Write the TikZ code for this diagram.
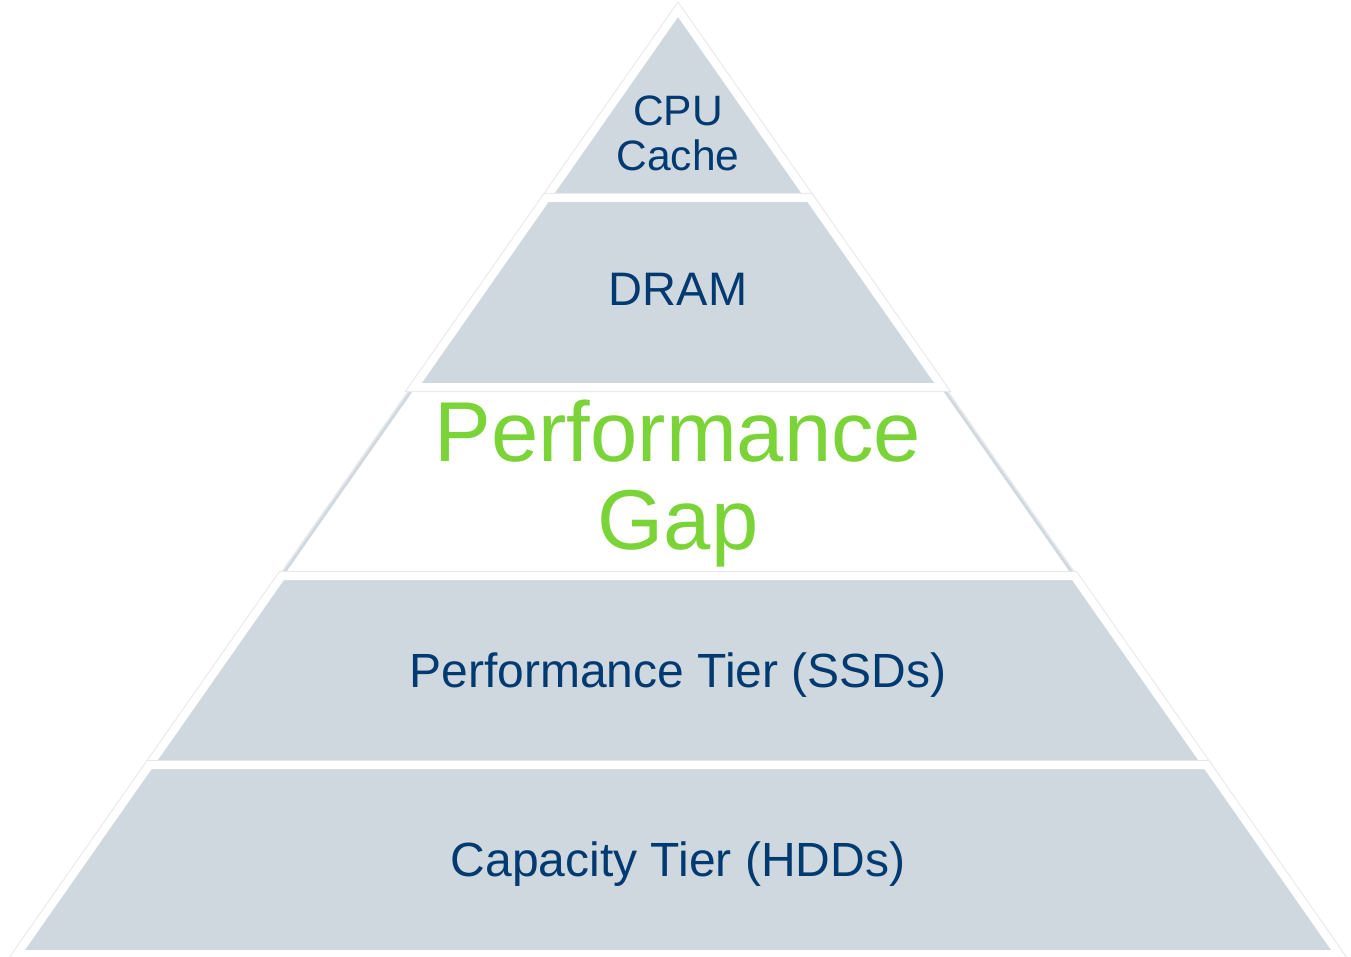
\documentclass[tikz,border=0pt]{standalone}
\usepackage{fontspec}
\setmainfont{Liberation Sans}
\definecolor{tierfill}{RGB}{208,216,223}
\definecolor{tiertext}{RGB}{0,58,112}
\definecolor{gapgreen}{RGB}{122,211,55}
\definecolor{tiershade}{RGB}{230,232,235}
% trapezoid slice of the pyramid between two heights
\newcommand{\bandpath}[2]{({678-0.7*(#1-10)},#1) -- ({678+0.7*(#1-10)},#1) -- ({678+0.7*(#2-10)},#2) -- ({678-0.7*(#2-10)},#2) -- cycle}
\tikzset{
  tier/.style={fill=tierfill, draw=white, line width=8pt, line join=miter,
    preaction={draw=tiershade, line width=10pt, line join=miter}},
  gapband/.style={fill=white, draw=tierfill, line width=2.5pt,
    preaction={draw=tiershade, line width=6pt}},
  tierlabel/.style={text=tiertext, font=\fontsize{48}{50}\selectfont, align=center, inner sep=0pt}
}
\begin{document}
\begin{tikzpicture}[x=1pt,y=-1pt]
    \useasboundingbox (0,0) rectangle (1351,957);
    % the gap band sits under the tiers
    \draw[gapband] \bandpath{387}{576};
    \draw[tier] (678,10) -- ({678+0.7*188},198) -- ({678-0.7*188},198) -- cycle;
    \foreach \top/\bot in {198/387, 576/765, 765/954}
        \draw[tier] \bandpath{\top}{\bot};
    \node[tierlabel, font=\fontsize{42.5}{45}\selectfont] (cpu) at (678,133) {CPU\\Cache};
    \node[tierlabel, font=\fontsize{47}{50}\selectfont, anchor=base] (dram) at (678,306) {DRAM};
    \node[tierlabel, text=gapgreen, font=\fontsize{85}{88}\selectfont] (gap) at (678,484) {Performance\\Gap};
    \node[tierlabel, anchor=base] (ssd) at (678,687) {Performance Tier (SSDs)};
    \node[tierlabel, anchor=base] (hdd) at (678,876) {Capacity Tier (HDDs)};
\end{tikzpicture}
\end{document}
